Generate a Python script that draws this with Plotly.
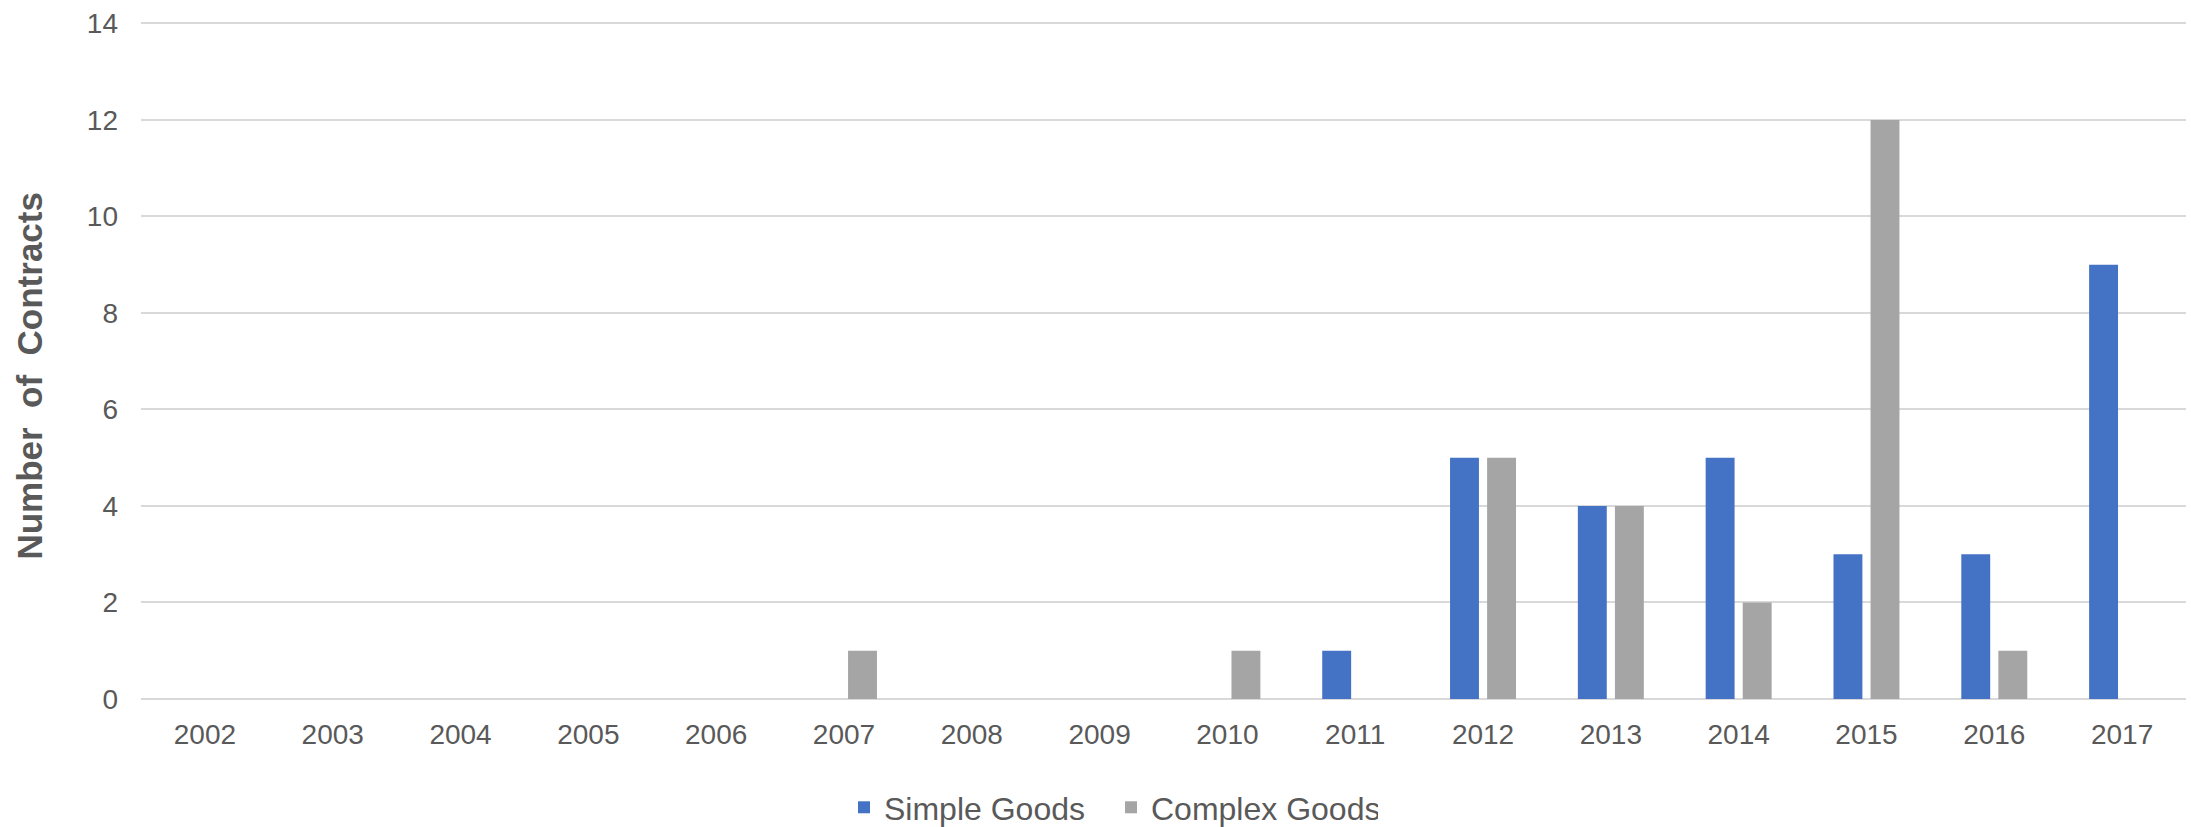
import plotly.graph_objects as go

years = [str(y) for y in range(2002, 2018)]
simple_goods = [0, 0, 0, 0, 0, 0, 0, 0, 0, 1, 5, 4, 5, 3, 3, 9]
complex_goods = [0, 0, 0, 0, 0, 1, 0, 0, 1, 0, 5, 4, 2, 12, 1, 0]
y_ticks = [0, 2, 4, 6, 8, 10, 12, 14]

FONT = "Liberation Sans, Arial, sans-serif"
TXT = "#595959"

fig = go.Figure()
fig.add_trace(go.Bar(x=years, y=simple_goods, name="Simple Goods",
                     marker=dict(color="#4472C4", line=dict(width=0))))
fig.add_trace(go.Bar(x=years, y=complex_goods, name="Complex Goods",
                     marker=dict(color="#A5A5A5", line=dict(width=0))))

W, H = 2191, 827
L, R, T, B = 141, 5, 21, 128

fig.update_layout(
    width=W, height=H,
    margin=dict(l=L, r=R, t=T, b=B, autoexpand=False),
    paper_bgcolor="white", plot_bgcolor="white",
    barmode="group", bargap=0.42, bargroupgap=0.22,
    font=dict(family=FONT, color=TXT, size=28),
    showlegend=True,
    legend=dict(orientation="h", x=(844 - L) / (W - L - R), y=-0.16,
                xanchor="left", yanchor="middle",
                font=dict(family=FONT, size=32, color=TXT), itemwidth=30,
                entrywidth=222, entrywidthmode="pixels",
                bgcolor="rgba(0,0,0,0)"),
    xaxis=dict(type="category", tickfont=dict(size=28, color=TXT, family=FONT),
               showgrid=False, showline=False, ticks="", ticklabelstandoff=16,
               fixedrange=True),
    yaxis=dict(range=[0, 14.05], tickvals=y_ticks, ticktext=[str(v) for v in y_ticks],
               tickfont=dict(size=28, color=TXT, family=FONT),
               showgrid=True, gridcolor="#D9D9D9", gridwidth=2,
               zeroline=True, zerolinecolor="#D9D9D9", zerolinewidth=2,
               showline=False, ticks="", ticklabelstandoff=22, fixedrange=True),
    annotations=[dict(text="<b>Number&nbsp; of&nbsp; Contracts</b>", textangle=-90,
                      xref="paper", yref="paper", x=(30 - L) / (W - L - R), y=0.477,
                      xanchor="center", yanchor="middle", showarrow=False,
                      font=dict(family=FONT, size=35, color=TXT))],
)

fig.write_html("out.html", config={"displayModeBar": False},
               post_script="document.body.style.margin='0';document.body.style.overflow='hidden';")
